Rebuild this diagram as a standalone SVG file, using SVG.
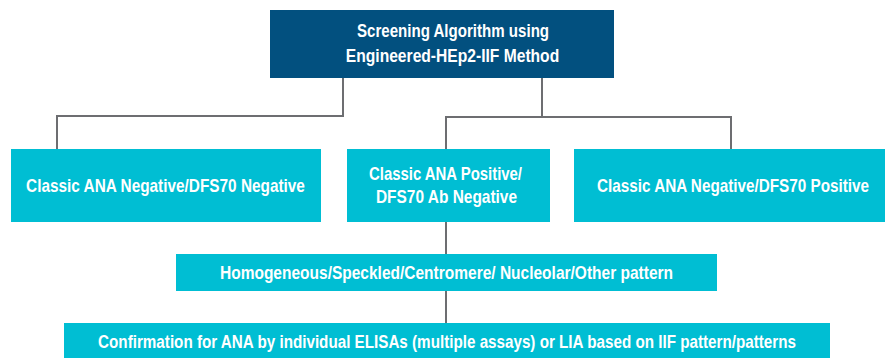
<svg xmlns="http://www.w3.org/2000/svg" width="885" height="358" viewBox="0 0 885 358">
<style>
.dark{fill:#02507f}
.cyan{fill:#00bed3}
.t{font-family:"Liberation Sans",Arial,sans-serif;font-weight:bold;font-size:18px;fill:#ffffff;text-anchor:middle}
.c{fill:none;stroke:#6d6e71;stroke-width:2}
</style>
<rect width="885" height="358" fill="#ffffff"/>
<g id="connectors">
<polyline class="c" points="343,78 343,116 57,116 57,149"/>
<polyline class="c" points="542,78 542,117"/>
<polyline class="c" points="446,149 446,117 731,117 731,149"/>
<line class="c" x1="446" y1="222" x2="446" y2="254"/>
<line class="c" x1="446" y1="291" x2="446" y2="323"/>
</g>
<g id="top">
<rect class="dark" x="270" y="10" width="344" height="68"/>
<text class="t" x="0" y="0" transform="translate(453 37) scale(0.85 1)" textLength="226" lengthAdjust="spacingAndGlyphs">Screening Algorithm using</text>
<text class="t" x="0" y="0" transform="translate(452.5 62) scale(0.85 1)" textLength="251" lengthAdjust="spacingAndGlyphs">Engineered-HEp2-IIF Method</text>
</g>
<g id="neg-neg">
<rect class="cyan" x="11" y="149" width="310" height="73"/>
<text class="t" x="0" y="0" transform="translate(165.5 192) scale(0.85 1)" textLength="328" lengthAdjust="spacingAndGlyphs">Classic ANA Negative/DFS70 Negative</text>
</g>
<g id="pos-neg">
<rect class="cyan" x="347" y="149" width="203" height="73"/>
<text class="t" x="0" y="0" transform="translate(445.5 180) scale(0.85 1)" textLength="180" lengthAdjust="spacingAndGlyphs">Classic ANA Positive/</text>
<text class="t" x="0" y="0" transform="translate(446.5 203) scale(0.85 1)" textLength="166" lengthAdjust="spacingAndGlyphs">DFS70 Ab Negative</text>
</g>
<g id="neg-pos">
<rect class="cyan" x="574" y="149" width="311" height="73"/>
<text class="t" x="0" y="0" transform="translate(733 192) scale(0.85 1)" textLength="320" lengthAdjust="spacingAndGlyphs">Classic ANA Negative/DFS70 Positive</text>
</g>
<g id="pattern">
<rect class="cyan" x="176" y="254" width="541" height="37"/>
<text class="t" x="0" y="0" transform="translate(446.5 279) scale(0.85 1)" textLength="533" lengthAdjust="spacingAndGlyphs">Homogeneous/Speckled/Centromere/ Nucleolar/Other pattern</text>
</g>
<g id="confirm">
<rect class="cyan" x="64" y="323" width="766" height="35"/>
<text class="t" x="0" y="0" transform="translate(447 348) scale(0.85 1)" textLength="821" lengthAdjust="spacingAndGlyphs">Confirmation for ANA by individual ELISAs (multiple assays) or LIA based on IIF pattern/patterns</text>
</g>
</svg>
